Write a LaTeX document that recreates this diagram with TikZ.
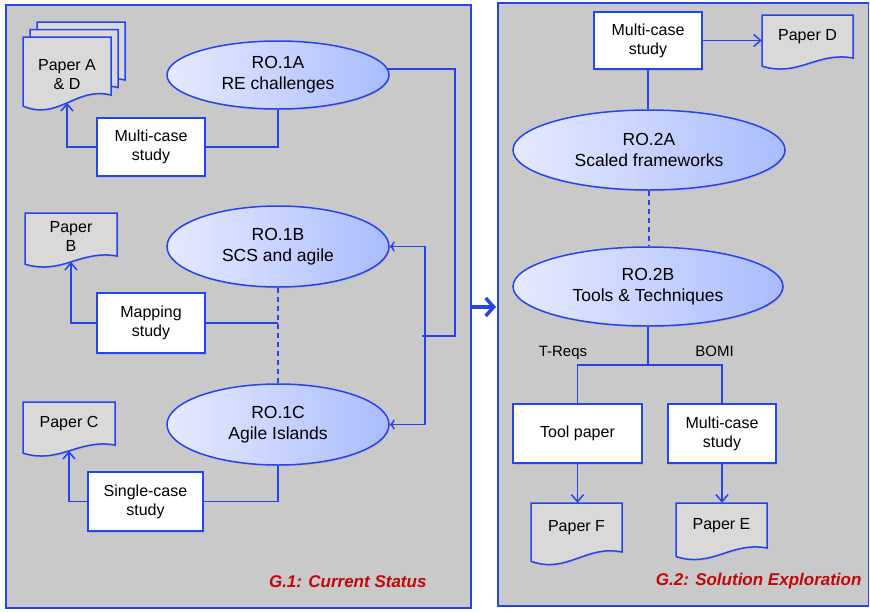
\documentclass[tikz,border=0pt]{standalone}
\usepackage{fontspec}
\setmainfont{Liberation Sans}
\usetikzlibrary{shapes.geometric,arrows.meta,shadows}

\definecolor{roblue}{RGB}{38,68,238}
\definecolor{roleft}{RGB}{230,234,255}
\definecolor{roright}{RGB}{170,188,255}
\definecolor{panelgray}{RGB}{201,201,201}
\definecolor{papergray}{RGB}{217,217,217}
\definecolor{goalred}{RGB}{192,8,8}

% A paper: name, left, top, width, height, text (optional text shift).
\newcommand{\paperdoc}[7][0]{%
	\draw[paperline] (#3,#4) -- ++(#5,0) -- ++(0,#6)
		.. controls +(-0.4*#5,-0.15*#6) and +(0.4*#5,0.26*#6) ..
		coordinate[pos=0.5] (#2-tip) ++(-#5,0.19*#6) -- cycle;
	\node[papertext, minimum width=#5pt, minimum height=#6pt, yshift=#1pt]
		(#2) at (#3+0.5*#5,#4+0.5*#6) {#7};
}

\begin{document}
\begin{tikzpicture}
		[
			x=1pt, y=-1pt,
			% Make a style for the grey goal panels.
			panel/.style={draw=roblue, fill=panelgray, line width=1.5pt},
			% One for the blue connectors.
			link/.style={draw=roblue, line width=1.5pt},
			% And one for connectors with an open arrow head.
			arr/.style={link, -{Straight Barb[length=7pt,width=12pt]}},
			% Objectives are shaded ellipses.
			ro/.style={ellipse, draw=roblue, line width=1.5pt, left color=roleft,
				right color=roright, inner sep=0pt, align=center,
				font=\fontsize{17.5}{21}\selectfont,
				drop shadow={shadow xshift=1pt, shadow yshift=-1.5pt, opacity=0.2}},
			% Studies are white boxes.
			studybox/.style={rectangle, draw=roblue, fill=white, line width=1.8pt,
				inner sep=0pt, align=center, font=\fontsize{16}{19}\selectfont,
				drop shadow={shadow xshift=1pt, shadow yshift=-1.5pt, opacity=0.25}},
			% Papers have a wavy bottom edge.
			paperline/.style={draw=roblue, fill=papergray, line width=1.5pt,
				drop shadow={shadow xshift=1pt, shadow yshift=-1.5pt, opacity=0.2}},
			papertext/.style={inner sep=0pt, align=center, font=\fontsize{16}{19}\selectfont},
			branch/.style={font=\fontsize{15}{18}\selectfont, anchor=base},
			goal/.style={text=goalred, font=\fontsize{17}{20}\selectfont\bfseries\itshape,
				anchor=base east},
			dashlink/.style={link, dash pattern=on 5pt off 4pt}
		]
			\useasboundingbox (0,0) rectangle (870,611);

			% Goal panels.
			\draw[panel] (6,5) rectangle (471,608);
			\draw[panel] (498,3) rectangle (868.5,606);

			% G.1: current status.
			\node[ro, minimum width=222pt, minimum height=68pt] (ro1a) at (278,75) {RO.1A\\RE challenges};
			\node[ro, minimum width=222pt, minimum height=81pt] (ro1b) at (278,246.5) {RO.1B\\SCS and agile};
			\node[ro, minimum width=222pt, minimum height=81pt] (ro1c) at (278,424.5) {RO.1C\\Agile Islands};

			\node[studybox, minimum width=108pt, minimum height=58pt] (mcs1) at (151,147) {Multi-case\\study};
			\node[studybox, minimum width=108pt, minimum height=60pt] (map) at (151,323) {Mapping\\study};
			\node[studybox, minimum width=115pt, minimum height=59pt] (scs) at (145.5,501.5) {Single-case\\study};

			\paperdoc{pad3}{37}{22}{88}{58}{}
			\paperdoc{pad2}{30}{29.5}{88}{58}{}
			\paperdoc[-9]{pad}{23}{37}{88}{58}{Paper A\\\& D}
			\paperdoc[-2]{pb}{25}{213}{92}{43}{Paper\\B}
			\paperdoc{pc}{23}{402}{92}{43}{Paper C}

			\draw[link] (ro1a.south) |- (mcs1.east);
			\draw[arr] (mcs1.west) -| (pad-tip);
			\draw[dashlink] (ro1b.south) -- (ro1c.north);
			\draw[link] (map.east) -- (map.east -| ro1b.south);
			\draw[arr] (map.west) -| (pb-tip);
			\draw[link] (ro1c.south) |- (scs.east);
			\draw[arr] (scs.west) -| (pc-tip);

			% Feedback from RO.1A into RO.1B and RO.1C.
			\coordinate (back) at (455,336);
			\coordinate (join) at (422,336);
			\draw[link] (ro1a.3) -| (back) -- (join);
			\draw[arr, <->] (ro1b.east) -- ++(35,0) |- (ro1c.east);

			\node[goal] (g1) at (430,587) {G.1: Current Status};

			% Move on to G.2.
			\coordinate (g1out) at (471,307);
			\coordinate (g2in) at (496,307);
			\draw[draw=roblue, line width=3.5pt, -{Straight Barb[length=8pt,width=18pt]}] (g1out) -- (g2in);

			% G.2: solution exploration.
			\node[studybox, minimum width=108pt, minimum height=57pt] (mcs2) at (648,40.5) {Multi-case\\study};
			\paperdoc{pd}{762}{15}{91}{43}{Paper D}
			\node[ro, minimum width=272pt, minimum height=80pt] (ro2a) at (649,150) {RO.2A\\Scaled frameworks};
			\node[ro, minimum width=270pt, minimum height=79pt] (ro2b) at (648,286.5) {RO.2B\\Tools \& Techniques};

			\node[studybox, minimum width=129pt, minimum height=59pt] (tool) at (577.5,433.5) {Tool paper};
			\node[studybox, minimum width=108pt, minimum height=59pt] (mcs3) at (722,433.5) {Multi-case\\study};
			\paperdoc{pf}{531}{503}{91}{49}{Paper F}
			\paperdoc{pe}{676}{503}{91}{45}{Paper E}

			\node[branch] (treqs) at (563,356) {T-Reqs};
			\node[branch] (bomi) at (714.5,356) {BOMI};

			\draw[arr] (mcs2.east) -- (mcs2.east -| pd.west);
			\draw[link] (mcs2.south) -- (mcs2.south |- ro2a.north);
			\draw[dashlink] (ro2a.south) -- (ro2a.south |- ro2b.north);
			\coordinate (split) at (648,365);
			\draw[link] (ro2b.south) -- (split);
			\draw[link] (tool.north) |- (split) -| (mcs3.north);
			\draw[arr] (tool.south) -- (tool.south |- pf.north);
			\draw[arr] (mcs3.south) -- (mcs3.south |- pe.north);

			\node[goal] (g2) at (865,585) {G.2: Solution Exploration};
		\end{tikzpicture}
\end{document}
